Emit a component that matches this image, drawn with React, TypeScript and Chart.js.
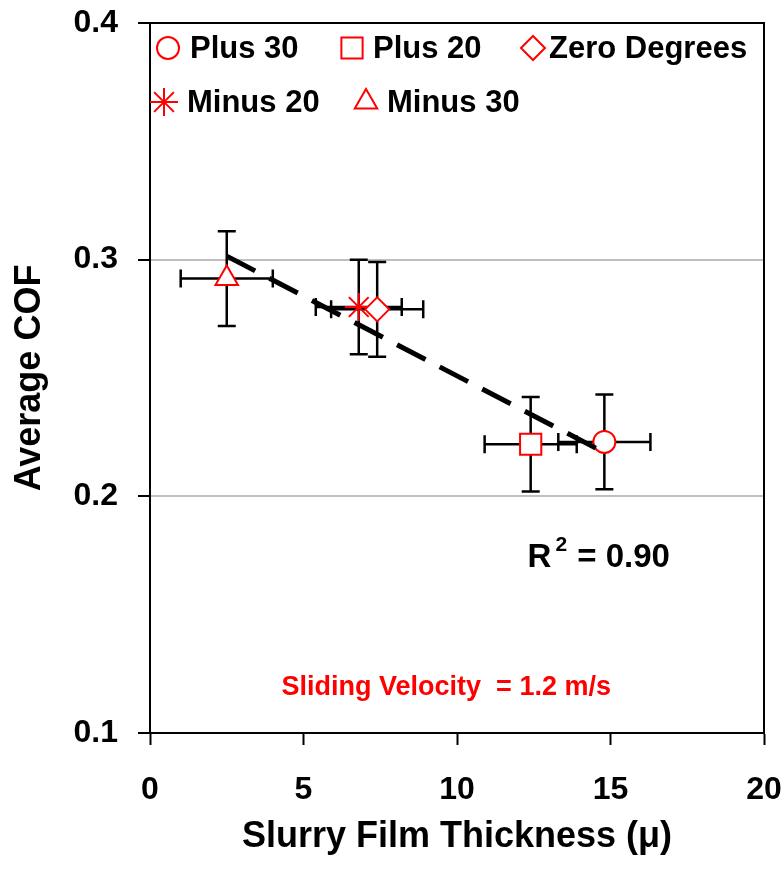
import React, { useEffect, useRef } from 'react';
import { Chart, registerables } from 'chart.js';
import { drawPoint } from 'chart.js/helpers';

Chart.register(...registerables);

const seriesNames = ['Plus 30', 'Plus 20', 'Zero Degrees', 'Minus 20', 'Minus 30'];
const filmThickness = [14.8, 12.4, 7.4, 6.8, 2.5];
const averageCOF = [0.223, 0.222, 0.279, 0.28, 0.292];
const thicknessErr = [1.5, 1.5, 1.5, 1.4, 1.5];
const cofErr = [0.02, 0.02, 0.02, 0.02, 0.02];
const pointStyles = ['circle', 'rect', 'rectRot', 'star', 'triangle'];
const pointRadii = [11, 15, 12, 14, 13];
const trendX = [2.5, 14.8];
const trendY = [0.3015, 0.2185];
const rSquaredText = '0.90';
const noteText = 'Sliding Velocity  = 1.2 m/s';
const xTitle = 'Slurry Film Thickness (\u03bc)';
const yTitle = 'Average COF';

const FONT = '"Liberation Sans", Arial, Helvetica, sans-serif';
const RED = '#ff0000';

// legend layout (pixel offsets inside the plot area)
const legendRows = [25, 79];
const legendItems = [
  { i: 0, row: 0, mx: 18, tx: 40 },
  { i: 1, row: 0, mx: 202, tx: 223 },
  { i: 2, row: 0, mx: 383, tx: 399 },
  { i: 3, row: 1, mx: 14, tx: 37 },
  { i: 4, row: 1, mx: 216, tx: 237 },
];

const errorBarPlugin = {
  id: 'errorBars',
  beforeDatasetsDraw(chart: any) {
    const { ctx, scales } = chart;
    const xs = scales.x;
    const ys = scales.y;
    ctx.save();
    ctx.strokeStyle = '#000';
    ctx.lineWidth = 2.5;
    const cap = 9;
    for (let i = 0; i < filmThickness.length; i++) {
      const px = xs.getPixelForValue(filmThickness[i]);
      const py = ys.getPixelForValue(averageCOF[i]);
      const x0 = xs.getPixelForValue(filmThickness[i] - thicknessErr[i]);
      const x1 = xs.getPixelForValue(filmThickness[i] + thicknessErr[i]);
      const y0 = ys.getPixelForValue(averageCOF[i] - cofErr[i]);
      const y1 = ys.getPixelForValue(averageCOF[i] + cofErr[i]);
      ctx.beginPath();
      ctx.moveTo(x0, py); ctx.lineTo(x1, py);
      ctx.moveTo(x0, py - cap); ctx.lineTo(x0, py + cap);
      ctx.moveTo(x1, py - cap); ctx.lineTo(x1, py + cap);
      ctx.moveTo(px, y0); ctx.lineTo(px, y1);
      ctx.moveTo(px - cap, y0); ctx.lineTo(px + cap, y0);
      ctx.moveTo(px - cap, y1); ctx.lineTo(px + cap, y1);
      ctx.stroke();
    }
    ctx.restore();
  },
};

const decorPlugin = {
  id: 'decor',
  afterDraw(chart: any) {
    const { ctx, chartArea, scales } = chart;
    const { left, top, right, bottom } = chartArea;
    ctx.save();
    // frame (top & right)
    ctx.strokeStyle = '#000';
    ctx.lineWidth = 2;
    ctx.beginPath();
    ctx.moveTo(left, top);
    ctx.lineTo(right, top);
    ctx.lineTo(right, bottom);
    ctx.stroke();

    // legend
    ctx.textAlign = 'left';
    ctx.textBaseline = 'middle';
    ctx.font = `bold 31px ${FONT}`;
    for (const it of legendItems) {
      const y = top + legendRows[it.row];
      ctx.fillStyle = '#fff';
      ctx.strokeStyle = RED;
      ctx.lineWidth = 2;
      drawPoint(ctx, { pointStyle: pointStyles[it.i], radius: pointRadii[it.i], rotation: 0, borderWidth: 2 } as any, left + it.mx, y);
      ctx.fillStyle = '#000';
      ctx.fillText(seriesNames[it.i], left + it.tx, y + 1);
    }

    // R^2 annotation
    const rx = scales.x.getPixelForValue(12.3);
    const ry = scales.y.getPixelForValue(0.1738);
    ctx.fillStyle = '#000';
    ctx.textBaseline = 'middle';
    ctx.font = `bold 33px ${FONT}`;
    ctx.fillText('R', rx, ry);
    const w = ctx.measureText('R').width;
    ctx.font = `bold 21px ${FONT}`;
    ctx.fillText('2', rx + w + 4, ry - 13);
    const w2 = ctx.measureText('2').width;
    ctx.font = `bold 33px ${FONT}`;
    ctx.fillText(' = ' + rSquaredText, rx + w + 5 + w2, ry);

    // note
    ctx.fillStyle = RED;
    ctx.textAlign = 'center';
    ctx.font = `bold 27px ${FONT}`;
    ctx.fillText(noteText, scales.x.getPixelForValue(9.65), scales.y.getPixelForValue(0.119));
    ctx.restore();
  },
};

export default function App() {
  const ref = useRef<HTMLCanvasElement | null>(null);
  useEffect(() => {
    if (!ref.current) return;
    const markerSets = seriesNames.map((name, i) => ({
      type: 'scatter' as const,
      label: name,
      data: [{ x: filmThickness[i], y: averageCOF[i] }],
      pointStyle: pointStyles[i],
      pointRadius: pointRadii[i],
      pointBorderWidth: 2,
      pointBorderColor: RED,
      pointBackgroundColor: '#fff',
      borderColor: RED,
      backgroundColor: '#fff',
      order: 1,
    }));
    const chart = new Chart(ref.current, {
      type: 'scatter',
      data: {
        datasets: [
          ...markerSets,
          {
            type: 'scatter' as const,
            label: 'Trend',
            data: trendX.map((x, i) => ({ x, y: trendY[i] })),
            showLine: true,
            borderColor: '#000',
            borderWidth: 5,
            borderDash: [32, 16],
            borderCapStyle: 'butt',
            pointRadius: 0,
            order: 0,
          } as any,
        ],
      },
      options: {
        animation: false,
        responsive: false,
        layout: { padding: { top: 23, right: 20, left: 0, bottom: 0 } },
        plugins: { legend: { display: false }, tooltip: { enabled: false } },
        scales: {
          x: {
            type: 'linear',
            min: 0,
            max: 20,
            afterFit: (s: any) => { s.height = 144; s.paddingLeft = 0; s.paddingRight = 0; },
            ticks: { stepSize: 5, color: '#000', padding: 26, font: { family: FONT, size: 32, weight: 'bold' } },
            grid: { drawOnChartArea: false, tickLength: 12, tickColor: '#000', tickWidth: 2 },
            border: { display: true, color: '#000', width: 2 },
            title: { display: true, text: xTitle, color: '#000', padding: { top: 0, bottom: 18 }, font: { family: FONT, size: 36, weight: 'bold' } },
          },
          y: {
            type: 'linear',
            min: 0.1,
            max: 0.4,
            afterFit: (s: any) => { s.width = 150; s.paddingTop = 0; s.paddingBottom = 0; },
            ticks: {
              stepSize: 0.1,
              color: '#000',
              padding: 20,
              font: { family: FONT, size: 32, weight: 'bold' },
              callback: (v: any) => Number(v).toFixed(1),
            },
            grid: {
              color: (c: any) => {
                const v = c.tick ? Math.round(c.tick.value * 10) : 0;
                return v === 2 || v === 3 ? '#bfbfbf' : 'rgba(0,0,0,0)';
              },
              lineWidth: 2,
              tickLength: 12,
              tickColor: '#000',
              tickWidth: 2,
            },
            border: { display: true, color: '#000', width: 2 },
            title: { display: true, text: yTitle, color: '#000', padding: { top: 8, bottom: 0 }, font: { family: FONT, size: 36, weight: 'bold' } },
          },
        },
      },
      plugins: [errorBarPlugin, decorPlugin],
    } as any);
    return () => chart.destroy();
  }, []);
  return (
    <canvas
      ref={ref}
      width={784}
      height={877}
      style={{ position: 'absolute', left: 0, top: 0, width: 784, height: 877, display: 'block', background: '#fff' }}
    />
  );
}
